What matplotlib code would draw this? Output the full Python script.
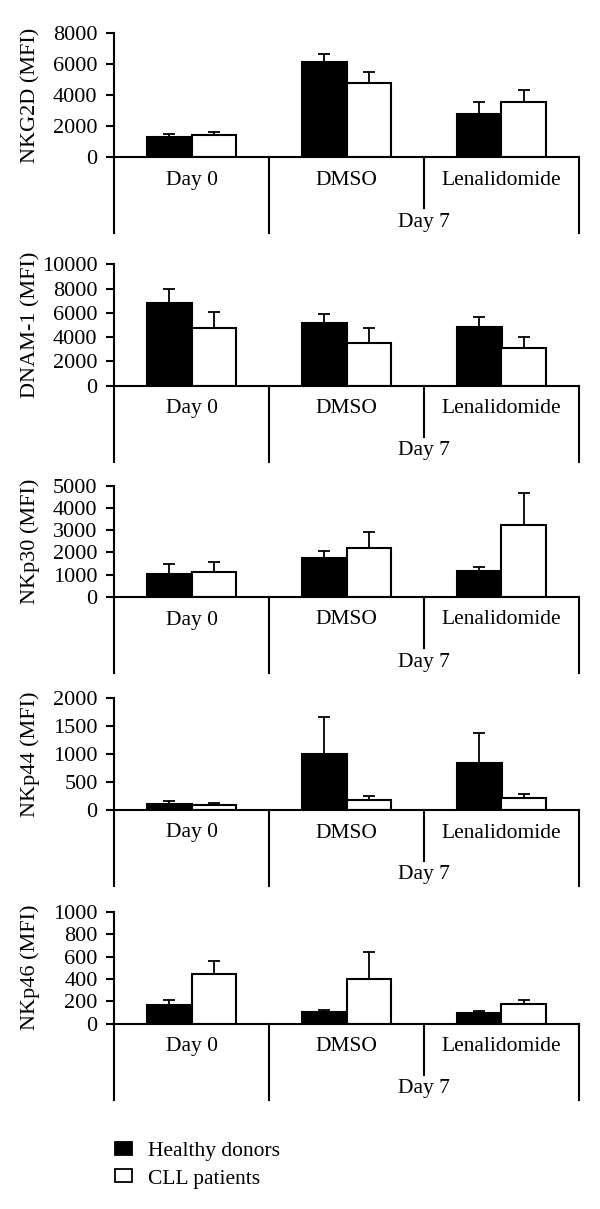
import matplotlib
matplotlib.use('Agg')
import matplotlib.pyplot as plt
import numpy as np
from matplotlib.patches import Patch

plt.rcParams['font.family'] = ['Liberation Serif', 'DejaVu Serif']

groups = ['Day 0', 'DMSO', 'Lenalidomide']
markers = ['NKG2D', 'DNAM-1', 'NKp30', 'NKp44', 'NKp46']
ymax = [8000, 10000, 5000, 2000, 1000]
ystep = [2000, 2000, 1000, 500, 200]

# mean values (Day 0, DMSO, Lenalidomide)
healthy = {
    'NKG2D': [1330, 6130, 2770],
    'DNAM-1': [6840, 5140, 4810],
    'NKp30': [1050, 1770, 1150],
    'NKp44': [113, 997, 837],
    'NKp46': [167, 104, 98],
}
cll = {
    'NKG2D': [1440, 4800, 3590],
    'DNAM-1': [4750, 3540, 3130],
    'NKp30': [1140, 2190, 3230],
    'NKp44': [89, 184, 220],
    'NKp46': [443, 396, 176],
}
# top of error bars
healthy_top = {
    'NKG2D': [1500, 6670, 3590],
    'DNAM-1': [7970, 5930, 5660],
    'NKp30': [1480, 2080, 1350],
    'NKp44': [160, 1662, 1371],
    'NKp46': [208, 122, 116],
}
cll_top = {
    'NKG2D': [1630, 5480, 4340],
    'DNAM-1': [6040, 4780, 4040],
    'NKp30': [1570, 2900, 4690],
    'NKp44': [125, 243, 291],
    'NKp46': [560, 637, 214],
}

W, H = 600, 1209
fig = plt.figure(figsize=(W / 100, H / 100), dpi=100)

# (top, zero) pixel rows of each panel
rows = [(33.3, 157.3), (264.3, 385.7), (485.7, 597), (697.7, 810), (911.7, 1023.7)]
left, right = 114, 579
x = np.arange(len(groups))
bw = 0.286
fs = 15.5
lw = 1.5

for k, m in enumerate(markers):
    ytop, yzero = rows[k]
    ax = fig.add_axes([left / W, 1 - yzero / H, (right - left) / W, (yzero - ytop) / H])
    hv = np.array(healthy[m]); cv = np.array(cll[m])
    ax.bar(x - bw / 2, hv, bw, color='black', edgecolor='black', linewidth=lw)
    ax.bar(x + bw / 2, cv, bw, color='white', edgecolor='black', linewidth=lw)
    ax.errorbar(x - bw / 2, hv, yerr=[np.zeros(3), np.array(healthy_top[m]) - hv],
                fmt='none', ecolor='black', elinewidth=1.3, capsize=4, capthick=1.3)
    ax.errorbar(x + bw / 2, cv, yerr=[np.zeros(3), np.array(cll_top[m]) - cv],
                fmt='none', ecolor='black', elinewidth=1.3, capsize=4, capthick=1.3)
    ax.set_xlim(-0.5, 2.5)
    ax.set_ylim(0, ymax[k])
    ax.set_yticks(np.arange(0, ymax[k] + 1, ystep[k]))
    ax.set_xticks([])
    for s in ['top', 'right']:
        ax.spines[s].set_visible(False)
    ax.spines['left'].set_linewidth(lw)
    ax.spines['bottom'].set_linewidth(lw)
    ax.tick_params(axis='y', direction='out', length=5.8, width=lw, labelsize=16, pad=6)
    ax.set_ylabel(m + ' (MFI)', fontsize=16)
    ax.yaxis.set_label_coords(-74 / (right - left), 0.5)

    # category box under the axis
    bx = fig.add_axes([left / W, 1 - (yzero + 76) / H, (right - left) / W, 76 / H])
    bx.set_xlim(-0.5, 2.5)
    bx.set_ylim(-76, 0)
    bx.axis('off')
    bx.plot([-0.5, -0.5], [0, -76], color='black', lw=lw, clip_on=False)
    bx.plot([0.5, 0.5], [0, -76], color='black', lw=lw, clip_on=False)
    bx.plot([1.5, 1.5], [0, -51], color='black', lw=lw, clip_on=False)
    bx.plot([2.5, 2.5], [0, -76], color='black', lw=lw, clip_on=False)
    for i, g in enumerate(groups):
        bx.text(i, -23, g, ha='center', va='center', fontsize=fs)
    bx.text(1.5, -65, 'Day 7', ha='center', va='center', fontsize=fs)

handles = [Patch(facecolor='black', edgecolor='black', linewidth=1.3),
           Patch(facecolor='white', edgecolor='black', linewidth=1.3)]
fig.legend(handles, ['Healthy donors', 'CLL patients'], loc='upper left',
           bbox_to_anchor=(115 / W, 1 - 1142 / H), frameon=False, fontsize=fs,
           borderpad=0, borderaxespad=0,
           handlelength=0.78, handleheight=0.56, handletextpad=0.75, labelspacing=0.38)

fig.savefig('out.png', dpi=100)
